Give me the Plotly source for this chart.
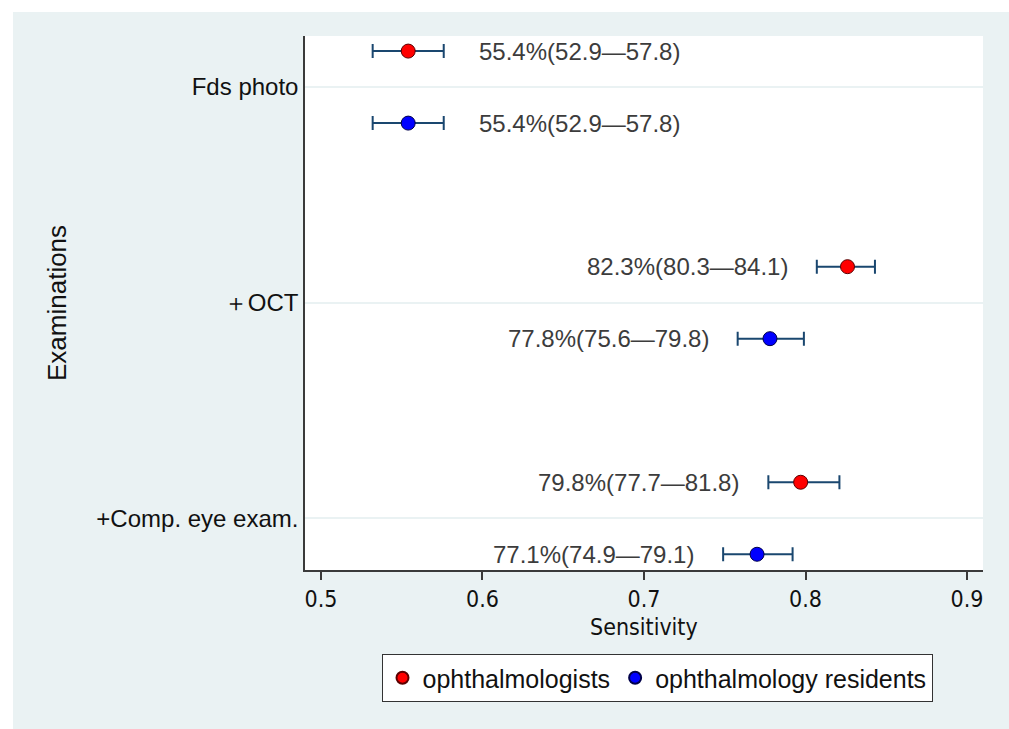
import plotly.graph_objects as go

categories = ["Fds photo", "＋OCT", "+Comp. eye exam."]
series_names = ["ophthalmologists", "ophthalmology residents"]

oph_est = [0.554, 0.826, 0.797]
oph_lo = [0.532, 0.807, 0.777]
oph_hi = [0.576, 0.843, 0.821]
oph_labels = ["55.4%(52.9—57.8)", "82.3%(80.3—84.1)", "79.8%(77.7—81.8)"]

res_est = [0.554, 0.778, 0.770]
res_lo = [0.532, 0.758, 0.749]
res_hi = [0.576, 0.799, 0.792]
res_labels = ["55.4%(52.9—57.8)", "77.8%(75.6—79.8)", "77.1%(74.9—79.1)"]

label_side = ["right", "left", "left"]  # label placement per category

x_ticks = [0.5, 0.6, 0.7, 0.8, 0.9]

BG = "#EAF2F3"
BAR = "#1A476F"
AX = "#3A3A3A"
OFF = 0.167
NARROW = "DejaVu Sans Condensed, Liberation Sans"

W, H = 1009, 729
ML, MR, MT, MB = 305, 26, 36, 159
PW, PH = W - ML - MR, H - MT - MB


def px_to_paper_x(px):
    return (px - ML) / PW


def px_to_paper_y(py):
    return (H - MB - py) / PH


fig = go.Figure()
series = [
    (series_names[0], oph_est, oph_lo, oph_hi, oph_labels, "#FF0000", -OFF),
    (series_names[1], res_est, res_lo, res_hi, res_labels, "#0000FF", OFF),
]
annotations = []
for name, est, lo, hi, labels, color, off in series:
    ys = [i + off for i in range(len(categories))]
    fig.add_trace(go.Scatter(
        x=est, y=ys, mode="markers", name=name,
        marker=dict(color=color, size=14, line=dict(color="#5A0000" if color == "#FF0000" else "#00004A", width=1)),
        error_x=dict(type="data", symmetric=False,
                     array=[h - e for h, e in zip(hi, est)],
                     arrayminus=[e - l for e, l in zip(est, lo)],
                     color=BAR, thickness=2, width=7),
        hoverinfo="skip",
    ))
    for i, lab in enumerate(labels):
        if label_side[i] == "right":
            annotations.append(dict(x=hi[i], y=ys[i], xref="x", yref="y", text=lab,
                                    showarrow=False, xanchor="left", xshift=33,
                                    font=dict(family="Liberation Sans", size=24, color="#3C3C3C")))
        else:
            annotations.append(dict(x=lo[i], y=ys[i], xref="x", yref="y", text=lab,
                                    showarrow=False, xanchor="right", xshift=-27,
                                    font=dict(family="Liberation Sans", size=24, color="#3C3C3C")))

annotations.append(dict(x=px_to_paper_x(57), y=0.5, xref="paper", yref="paper",
                        xanchor="center", yanchor="middle",
                        text="Examinations", textangle=-90, showarrow=False,
                        font=dict(family="Liberation Sans", size=26, color="#111")))
annotations.append(dict(x=px_to_paper_x(644), y=px_to_paper_y(627), xref="paper", yref="paper",
                        xanchor="center", yanchor="middle",
                        text="Sensitivity", showarrow=False,
                        font=dict(family=NARROW, size=23, color="#111")))

shapes = [
    dict(type="rect", xref="paper", yref="paper", x0=px_to_paper_x(0), x1=px_to_paper_x(W),
         y0=px_to_paper_y(12), y1=px_to_paper_y(0), fillcolor="white", line_width=0, layer="below"),
    dict(type="rect", xref="paper", yref="paper", x0=px_to_paper_x(0), x1=px_to_paper_x(13),
         y0=px_to_paper_y(H), y1=px_to_paper_y(0), fillcolor="white", line_width=0, layer="below"),
]

fig.update_layout(
    width=W, height=H,
    margin=dict(l=ML, r=MR, t=MT, b=MB),
    paper_bgcolor=BG, plot_bgcolor="white",
    annotations=annotations, shapes=shapes,
    showlegend=True,
    legend=dict(orientation="h", x=px_to_paper_x(657), xanchor="center",
                y=px_to_paper_y(654), yanchor="top",
                bgcolor="white", bordercolor="#333", borderwidth=1,
                font=dict(family="Liberation Sans", size=25, color="#111"),
                itemsizing="constant"),
    xaxis=dict(range=[0.4901, 0.9099], tickvals=x_ticks, ticktext=[str(t) for t in x_ticks],
               showgrid=False, zeroline=False, showline=True, linecolor=AX, linewidth=1.5,
               ticks="outside", ticklen=8, tickcolor=AX, tickwidth=1.5,
               tickfont=dict(family=NARROW, size=23, color="#111")),
    yaxis=dict(range=[2.24, -0.237], tickvals=list(range(len(categories))), ticktext=categories,
               showgrid=True, gridcolor=BG, gridwidth=2, zeroline=False,
               showline=True, linecolor=AX, linewidth=1.5, ticks="",
               tickfont=dict(family="Liberation Sans", size=24, color="#111")),
)

fig.write_html("out.html")
